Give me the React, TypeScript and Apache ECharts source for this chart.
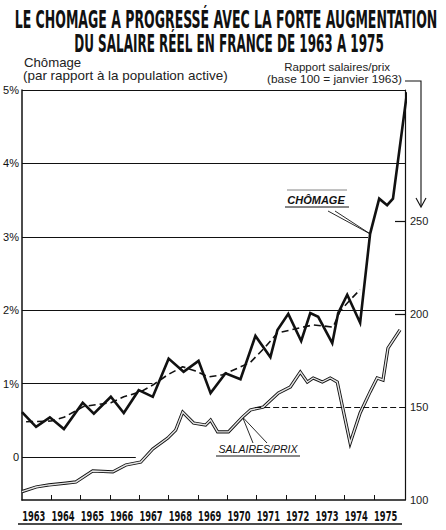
import React, { useEffect, useRef } from 'react';
import * as echarts from 'echarts';

const yearLabels = ['1963', '1964', '1965', '1966', '1967', '1968', '1969', '1970', '1971', '1972', '1973', '1974', '1975'];
const yearTicks = [1964, 1965, 1966, 1967, 1968, 1969, 1970, 1971, 1972, 1973, 1974, 1975];

const leftTicks = [0, 1, 2, 3, 4, 5];
const rightTicks = [100, 150, 200, 250];
const rightTickMarks = [200, 250];

// Chômage (% de la population active), semestriel
const chomageYears = [1963.0, 1963.48, 1963.95, 1964.43, 1965.07, 1965.45, 1966.03, 1966.47, 1966.98, 1967.46, 1968.0, 1968.51, 1969.02, 1969.43, 1969.94, 1970.45, 1970.96, 1971.47, 1971.71, 1972.08, 1972.52, 1972.83, 1973.1, 1973.58, 1973.78, 1974.09, 1974.53, 1974.87, 1975.18, 1975.45, 1975.65, 1976.13];
const chomageRate = [0.61, 0.41, 0.54, 0.38, 0.74, 0.59, 0.82, 0.6, 0.91, 0.82, 1.34, 1.16, 1.31, 0.87, 1.14, 1.06, 1.65, 1.36, 1.73, 1.95, 1.58, 1.96, 1.91, 1.55, 1.96, 2.21, 1.83, 3.04, 3.52, 3.43, 3.52, 4.97];

// Tendance du chômage (tiretés)
const trendYears = [1963.14, 1963.99, 1964.43, 1965.11, 1966.03, 1966.47, 1967.05, 1967.46, 1967.97, 1968.48, 1968.92, 1969.36, 1969.84, 1970.35, 1970.79, 1971.3, 1971.71, 1972.15, 1972.93, 1973.61, 1973.85, 1974.19, 1974.53];
const trendRate = [0.48, 0.49, 0.54, 0.69, 0.74, 0.82, 0.89, 0.98, 1.12, 1.23, 1.17, 1.09, 1.12, 1.21, 1.29, 1.5, 1.69, 1.73, 1.8, 1.77, 1.99, 2.14, 2.28];

// Rapport salaires/prix (base 100 = janvier 1963)
const salairesYears = [1963.0, 1963.48, 1963.92, 1964.5, 1964.84, 1965.41, 1966.1, 1966.54, 1967.05, 1967.46, 1967.97, 1968.24, 1968.48, 1968.85, 1969.26, 1969.43, 1969.67, 1970.04, 1970.52, 1970.79, 1971.23, 1971.74, 1972.15, 1972.49, 1972.73, 1972.93, 1973.24, 1973.51, 1973.75, 1974.19, 1974.53, 1974.87, 1975.11, 1975.31, 1975.48, 1975.89];
const salairesIndex = [104.5, 107.0, 108.1, 109.1, 109.7, 115.6, 115.1, 118.8, 120.4, 127.4, 133.3, 137.6, 147.3, 141.4, 140.3, 143.0, 136.6, 136.6, 144.6, 148.4, 150.0, 157.5, 160.8, 168.8, 163.4, 165.6, 163.4, 165.6, 163.4, 130.6, 146.8, 158.1, 165.6, 164.5, 181.7, 191.4];

const zip = (xs: number[], ys: number[]) => xs.map((x, i) => [x, ys[i]]);

export default function App() {
  const ref = useRef<HTMLDivElement>(null);

  useEffect(() => {
    const chart = echarts.init(ref.current!, null, { renderer: 'svg' });
    const ink = '#111';
    const X0 = 1963;
    const X1 = 1976.06;
    const sans = "'Liberation Sans', Arial, sans-serif";
    const cond = "'DejaVu Sans Condensed', sans-serif";
    const gridLine = { color: ink, width: 1.2, type: 'solid' };

    const option: any = {
      animation: false,
      backgroundColor: '#fff',
      grid: { left: 22, right: 41, top: 90, bottom: 30 },
      xAxis: {
        type: 'value',
        min: X0,
        max: X1,
        axisLine: { show: true, onZero: false, lineStyle: { color: ink, width: 1.5 } },
        axisTick: { show: true, inside: true, length: 5, customValues: yearTicks, lineStyle: { color: ink, width: 1 } },
        axisLabel: { show: false },
        splitLine: { show: false },
      },
      yAxis: [
        {
          type: 'value',
          min: -0.586,
          max: 5,
          position: 'left',
          axisLine: { show: true, onZero: false, lineStyle: { color: ink, width: 1.5 } },
          axisTick: { show: false },
          axisLabel: {
            customValues: leftTicks,
            formatter: (v: number) => (v === 0 ? '0' : v + '%'),
            margin: 3,
            fontFamily: sans,
            fontSize: 11,
            color: ink,
          },
          splitLine: { show: false },
        },
        {
          type: 'value',
          min: 100,
          max: 320.4,
          position: 'right',
          axisLine: { show: true, onZero: false, lineStyle: { color: ink, width: 1.2 } },
          axisTick: { show: true, inside: true, length: 10, customValues: rightTickMarks, lineStyle: { color: ink, width: 1.2 } },
          axisLabel: {
            customValues: rightTicks,
            margin: 5,
            fontFamily: sans,
            fontSize: 11,
            color: '#222',
          },
          splitLine: { show: false },
        },
      ],
      series: [
        {
          name: 'grille',
          type: 'line',
          yAxisIndex: 0,
          data: [[X0, 5]],
          showSymbol: false,
          silent: true,
          z: 1,
          markLine: {
            silent: true,
            symbol: ['none', 'none'],
            label: { show: false },
            lineStyle: gridLine,
            data: [
              [{ coord: [X0, 5] }, { coord: [X1, 5] }],
              [{ coord: [X0, 4] }, { coord: [X1, 4] }],
              [{ coord: [X0, 3] }, { coord: [1974.8, 3] }],
              [{ coord: [X0, 2] }, { coord: [X1, 2] }],
              [{ coord: [X0, 1] }, { coord: [1967.45, 1] }],
              [{ coord: [X0, 0] }, { coord: [1966.88, 0] }],
            ],
          },
        },
        {
          name: 'grille150',
          type: 'line',
          yAxisIndex: 1,
          data: [[X1, 150]],
          showSymbol: false,
          silent: true,
          z: 1,
          markLine: {
            silent: true,
            symbol: ['none', 'none'],
            label: { show: false },
            lineStyle: { color: ink, width: 1.1, type: [6, 3] },
            data: [[{ coord: [1970.95, 150] }, { coord: [X1, 150] }]],
          },
        },
        {
          name: 'salairesBord',
          type: 'line',
          yAxisIndex: 1,
          data: zip(salairesYears, salairesIndex),
          showSymbol: false,
          clip: false,
          z: 2,
          lineStyle: { color: ink, width: 3.2, join: 'miter' },
        },
        {
          name: 'salaires',
          type: 'line',
          yAxisIndex: 1,
          data: zip(salairesYears, salairesIndex),
          showSymbol: false,
          clip: false,
          z: 3,
          lineStyle: { color: '#e4e4e4', width: 1.4, join: 'miter' },
        },
        {
          name: 'tendance',
          type: 'line',
          yAxisIndex: 0,
          data: zip(trendYears, trendRate),
          showSymbol: false,
          clip: false,
          z: 4,
          lineStyle: { color: ink, width: 1.6, type: [7, 4] },
        },
        {
          name: 'chomage',
          type: 'line',
          yAxisIndex: 0,
          data: zip(chomageYears, chomageRate),
          showSymbol: false,
          clip: false,
          z: 5,
          lineStyle: { color: ink, width: 2.6, join: 'miter' },
        },
      ],
    };

    chart.setOption(option);

    const chomAnchor = chart.convertToPixel({ xAxisIndex: 0, yAxisIndex: 0 }, [chomageYears[27], chomageRate[27]]) as number[];
    const salAnchor = chart.convertToPixel({ xAxisIndex: 0, yAxisIndex: 1 }, [salairesYears[18], salairesIndex[18]]) as number[];

    const line = (x1: number, y1: number, x2: number, y2: number, w = 1, color = ink) => ({
      type: 'line',
      silent: true,
      shape: { x1, y1, x2, y2 },
      style: { stroke: color, lineWidth: w },
    });
    const txt = (text: string, x: number, y: number, extra: any = {}, props: any = {}) => ({
      type: 'text',
      x,
      y,
      silent: true,
      ...props,
      style: { text, fill: ink, fontFamily: sans, fontSize: 11, align: 'left', verticalAlign: 'middle', ...extra },
    });

    const yearTexts = yearLabels.map((y) => {
      const px = chart.convertToPixel({ xAxisIndex: 0 }, Number(y) + 0.4) as number;
      return txt(y, px, 516, { fontFamily: cond, fontWeight: 'bold', fontSize: 14.5, align: 'center' }, { scaleX: 0.64 });
    });

    chart.setOption({
      graphic: [
        txt('LE CHOMAGE A PROGRESSÉ AVEC LA FORTE AUGMENTATION', 226, 19,
          { fontFamily: cond, fontWeight: 'bold', fontSize: 25, align: 'center' },
          { scaleX: 0.557 }),
        txt('DU SALAIRE RÉEL EN FRANCE DE 1963 A 1975', 229, 43,
          { fontFamily: cond, fontWeight: 'bold', fontSize: 25, align: 'center' },
          { scaleX: 0.534 }),
        txt('Chômage', 24, 63, { fontSize: 12, fill: '#222' }, { scaleX: 1.1 }),
        txt('(par rapport à la population active)', 23, 76, { fontSize: 12, fill: '#222' }, { scaleX: 1.12 }),
        txt('Rapport salaires/prix', 390, 67, { fontSize: 11, fill: '#222', align: 'right' }, { scaleX: 1.05 }),
        txt('(base 100 = janvier 1963)', 402, 79, { fontSize: 11, fill: '#222', align: 'right' }, { scaleX: 1.08 }),
        { type: 'polyline', silent: true, shape: { points: [[405, 81], [421, 81], [421, 206]] }, style: { stroke: ink, lineWidth: 1.1, fill: 'none' } },
        { type: 'polyline', silent: true, shape: { points: [[416, 198], [421, 207], [426, 198]] }, style: { stroke: ink, lineWidth: 1.1, fill: 'none' } },
        txt('CHÔMAGE', 316, 200, { fontWeight: 'bold', fontStyle: 'italic', fontSize: 11, align: 'center' }),
        line(285, 207, 349, 207, 1),
        line(287, 190, 347, 190, 0.8, '#666'),
        line(328, 211, chomAnchor[0], chomAnchor[1], 0.9),
        line(335, 211, chomAnchor[0], chomAnchor[1], 0.9),
        txt('SALAIRES/PRIX', 258, 449, { fontStyle: 'italic', fontSize: 10.5, align: 'center' }),
        line(216, 456, 300, 456, 1),
        line(salAnchor[0], salAnchor[1], 253, 443, 0.9),
        line(salAnchor[0], salAnchor[1], 267, 443, 0.9),
        line(18, 524, 402, 524, 1.6),
        ...yearTexts,
      ],
    });

    return () => chart.dispose();
  }, []);

  return (
    <div
      ref={ref}
      style={{ position: 'fixed', left: 0, top: 0, width: 446, height: 530, background: '#fff' }}
    />
  );
}
